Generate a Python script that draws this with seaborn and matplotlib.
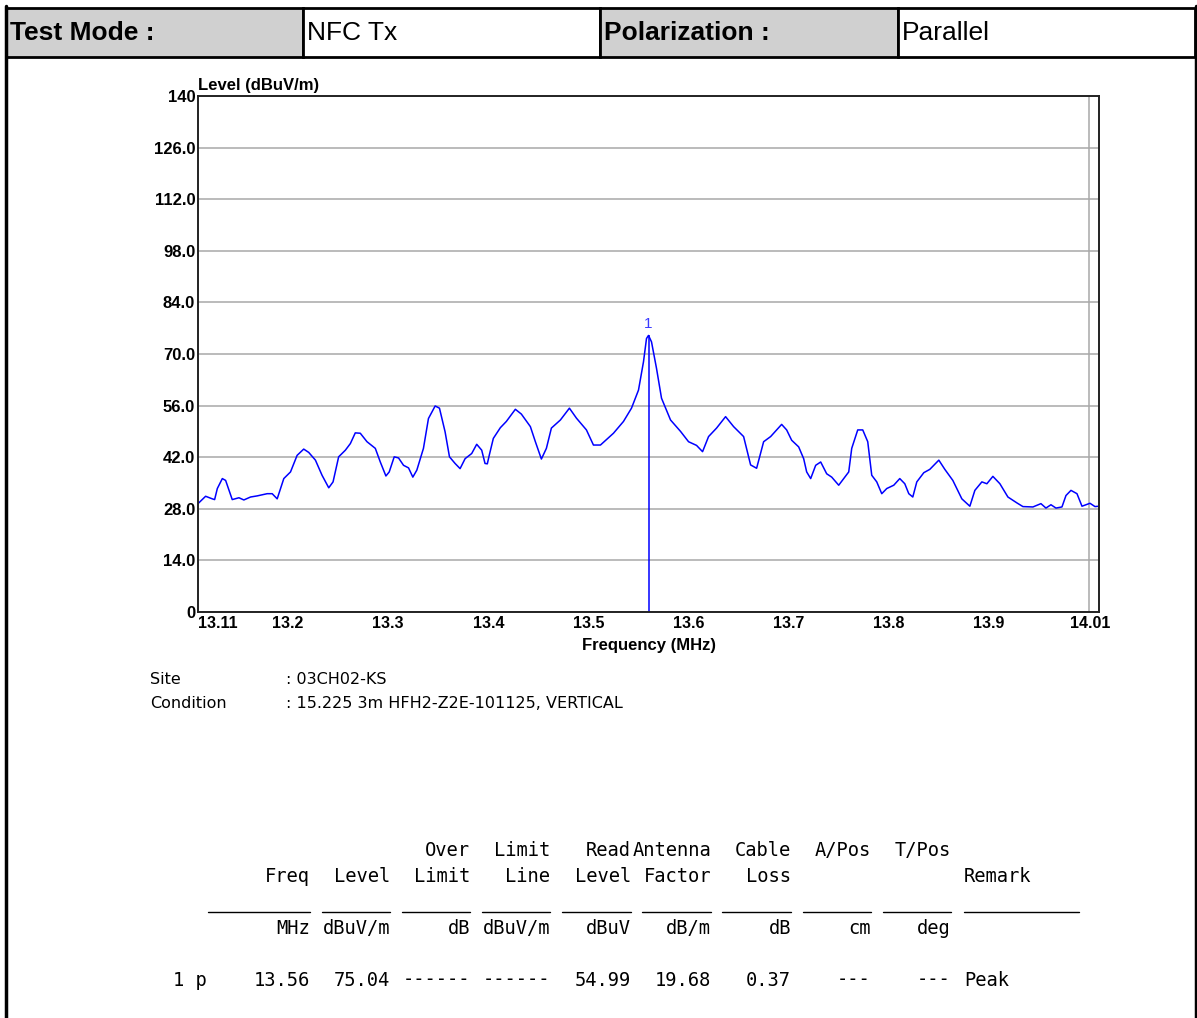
import matplotlib
matplotlib.use("Agg")
import matplotlib.pyplot as plt
import matplotlib.transforms as mtransforms
from matplotlib.patches import Rectangle
from matplotlib.lines import Line2D
import seaborn as sns

# trace (MHz, dBuV/m)
freq = [13.110, 13.1176, 13.1243, 13.1266, 13.1293, 13.1343, 13.1376, 13.1442, 13.1509, 13.1558,
        13.1625, 13.1691, 13.1791, 13.1841, 13.1891, 13.1957, 13.2024, 13.2090, 13.2156, 13.2206,
        13.2273, 13.2339, 13.2406, 13.2449, 13.2505, 13.2572, 13.2622, 13.2671, 13.2721, 13.2788,
        13.2871, 13.2921, 13.2977, 13.3010, 13.3060, 13.3103, 13.3153, 13.3203, 13.3246, 13.3286,
        13.3352, 13.3402, 13.3469, 13.3512, 13.3568, 13.3612, 13.3668, 13.3718, 13.3768, 13.3834,
        13.3884, 13.3934, 13.3967, 13.3990, 13.4010, 13.405, 13.412, 13.418, 13.427, 13.433,
        13.442, 13.447, 13.453, 13.458, 13.463, 13.472, 13.481, 13.488, 13.498, 13.505,
        13.512, 13.525, 13.535, 13.543, 13.550, 13.555, 13.558, 13.560, 13.563, 13.568,
        13.573, 13.582, 13.592, 13.600, 13.608, 13.614, 13.620, 13.628, 13.637, 13.645,
        13.655, 13.662, 13.668, 13.675, 13.682, 13.693, 13.698, 13.703, 13.710, 13.715,
        13.718, 13.722, 13.727, 13.732, 13.738, 13.743, 13.750, 13.755, 13.760, 13.763,
        13.769, 13.774, 13.779, 13.783, 13.788, 13.793, 13.798, 13.805, 13.811, 13.816,
        13.820, 13.824, 13.828, 13.835, 13.841, 13.850, 13.856, 13.864, 13.873, 13.881,
        13.886, 13.893, 13.898, 13.904, 13.911, 13.919, 13.928, 13.934, 13.944, 13.952,
        13.957, 13.962, 13.967, 13.973, 13.977, 13.982, 13.988, 13.993, 14.001, 14.006,
        14.010]
level = [29.4, 31.4, 30.7, 30.5, 33.5, 36.2, 35.7, 30.5, 31.0, 30.4,
         31.2, 31.5, 32.1, 32.1, 30.7, 36.2, 38.0, 42.5, 44.2, 43.3,
         41.2, 37.1, 33.7, 35.3, 42.1, 43.9, 45.7, 48.6, 48.5, 46.2,
         44.4, 40.7, 36.9, 38.0, 42.1, 41.8, 39.8, 39.1, 36.6, 38.5,
         44.4, 52.5, 55.9, 55.3, 48.9, 42.1, 40.3, 38.9, 41.6, 43.0,
         45.5, 43.9, 40.3, 40.2, 42.6, 47.1, 50.0, 51.7, 55.0, 53.7,
         50.3, 46.2, 41.5, 44.4, 49.9, 52.1, 55.3, 52.6, 49.4, 45.3,
         45.3, 48.5, 51.7, 55.3, 60.2, 67.9, 74.2, 75.04, 73.3, 66.1,
         58.0, 52.1, 49.0, 46.2, 45.2, 43.5, 47.6, 49.9, 53.0, 50.3,
         47.6, 39.9, 39.0, 46.2, 47.6, 50.9, 49.4, 46.6, 44.8, 41.6,
         38.0, 36.2, 39.8, 40.7, 37.5, 36.6, 34.4, 36.2, 38.0, 44.4,
         49.4, 49.4, 46.2, 37.1, 35.3, 32.1, 33.5, 34.4, 36.2, 34.8,
         32.1, 31.2, 35.3, 37.8, 38.7, 41.2, 38.7, 35.7, 30.7, 28.7,
         33.0, 35.3, 34.8, 36.8, 34.8, 31.2, 29.6, 28.6, 28.5, 29.4,
         28.2, 29.1, 28.2, 28.5, 31.6, 33.0, 32.1, 28.7, 29.5, 28.6,
         28.7]

marker_freq = 13.56
marker_level = 75.04

y_ticks = [0, 14, 28, 42, 56, 70, 84, 98, 112, 126, 140]
y_labels = ["0", "14.0", "28.0", "42.0", "56.0", "70.0", "84.0", "98.0", "112.0", "126.0", "140"]
x_ticks = [13.11, 13.2, 13.3, 13.4, 13.5, 13.6, 13.7, 13.8, 13.9, 14.01]
x_labels = ["13.11", "13.2", "13.3", "13.4", "13.5", "13.6", "13.7", "13.8", "13.9", "14.01"]
x_grid = [13.2, 13.3, 13.4, 13.5, 13.6, 13.7, 13.8, 13.9, 14.0]

header = [("Test Mode :", True), ("NFC Tx", False), ("Polarization :", True), ("Parallel", False)]
site_info = [("Site", ": 03CH02-KS"), ("Condition", ": 15.225 3m HFH2-Z2E-101125, VERTICAL")]

tbl_row1 = ["", "", "Over", "Limit", "Read", "Antenna", "Cable", "A/Pos", "T/Pos"]
tbl_row2 = ["Freq", "Level", "Limit", "Line", "Level", "Factor", "Loss", "", ""]
tbl_units = ["MHz", "dBuV/m", "dB", "dBuV/m", "dBuV", "dB/m", "dB", "cm", "deg"]
tbl_data = ["13.56", "75.04", "------", "------", "54.99", "19.68", "0.37", "---", "---"]
remark_head = "Remark"
remark_data = "Peak"
row_id = "1 p"

W, H = 1197, 1018
sns.set_style("white")
plt.rcParams["font.family"] = ["Liberation Sans", "DejaVu Sans"]
plt.rcParams["text.color"] = "black"
plt.rcParams["axes.labelcolor"] = "black"
plt.rcParams["xtick.color"] = "black"
plt.rcParams["ytick.color"] = "black"

fig = plt.figure(figsize=(W / 100, H / 100), dpi=100)
fig.patch.set_facecolor("white")


def fx(x):
    return x / W


def fy(y):
    return 1 - y / H


# header table
edges = [6, 303, 600, 898, 1195]
for i, (txt, bold) in enumerate(header):
    fill = "#d0d0d0" if bold else "white"
    fig.add_artist(Rectangle((fx(edges[i]), fy(57)), fx(edges[i + 1] - edges[i]), 49 / H,
                             transform=fig.transFigure, facecolor=fill, edgecolor="black", lw=2))
    fig.text(fx(edges[i] + 4), fy(33), txt, fontsize=19, fontweight="bold" if bold else "normal",
             va="center", ha="left")
# outer frame
fig.add_artist(Line2D([fx(5.5), fx(5.5)], [fy(6), 0], transform=fig.transFigure, color="black", lw=2.5))
fig.add_artist(Line2D([fx(1195.5), fx(1195.5)], [fy(6), 0], transform=fig.transFigure, color="black", lw=2.5))

# chart
ax = fig.add_axes([fx(198), fy(612), fx(1099 - 198), 516 / H])
sns.lineplot(x=freq, y=level, ax=ax, color="#0000ff", lw=1.1, estimator=None, sort=False)
ax.vlines(marker_freq, 0, marker_level, color="#0000ff", lw=1.1)
ax.text(marker_freq, marker_level + 1.2, "1", color="#3a3aff", ha="center", va="bottom", fontsize=11)

ax.set_xlim(13.11, 14.01)
ax.set_ylim(0, 140)
ax.set_yticks(y_ticks)
ax.set_yticklabels(y_labels, fontsize=12, fontweight="bold")
ax.set_xticks(x_ticks)
ax.set_xticklabels(x_labels, fontsize=11.5, fontweight="bold")
ax.set_xticks(x_grid, minor=True)
ax.tick_params(axis="both", which="both", length=0)
ax.tick_params(axis="y", pad=2)
ax.tick_params(axis="x", pad=3)
ax.grid(axis="y", which="major", color="#a8a8a8", lw=1.1)
ax.grid(axis="x", which="minor", color="#a8a8a8", lw=1.1)
ax.grid(axis="x", which="major", visible=False)
ax.set_axisbelow(True)
for s in ax.spines.values():
    s.set_color("#222222")
    s.set_linewidth(1.4)

labs = ax.get_xticklabels()
labs[0].set_transform(labs[0].get_transform() + mtransforms.ScaledTranslation(20 / 100, 0, fig.dpi_scale_trans))
labs[-1].set_transform(labs[-1].get_transform() + mtransforms.ScaledTranslation(-9 / 100, 0, fig.dpi_scale_trans))

ax.set_xlabel("Frequency (MHz)", fontsize=12, fontweight="bold", labelpad=5)
ax.text(0, 1.006, "Level (dBuV/m)", transform=ax.transAxes, fontsize=12, fontweight="bold",
        ha="left", va="bottom")

# site info
for i, (k, v) in enumerate(site_info):
    yy = fy(679 + 24 * i)
    fig.text(fx(150), yy, k, fontsize=11.5, family="DejaVu Sans", va="center")
    fig.text(fx(286), yy, v, fontsize=11.5, family="DejaVu Sans", va="center")

# result table
mono = "DejaVu Sans Mono"
col_right = [310, 390, 470, 550, 631, 711, 791, 871, 951]
for i, xr in enumerate(col_right):
    for txt, yy in [(tbl_row1[i], 851), (tbl_row2[i], 877), (tbl_units[i], 928), (tbl_data[i], 980)]:
        if txt:
            fig.text(fx(xr), fy(yy), txt, family=mono, fontsize=13.5, ha="right", va="center")
fig.text(fx(964), fy(877), remark_head, family=mono, fontsize=13.5, ha="left", va="center")
fig.text(fx(964), fy(980), remark_data, family=mono, fontsize=13.5, ha="left", va="center")
fig.text(fx(173), fy(980), row_id, family=mono, fontsize=13.5, ha="left", va="center")
segs = [(208, 310), (322, 390), (402, 470), (482, 550), (562, 631), (642, 711),
        (722, 791), (803, 871), (883, 951), (964, 1079)]
for a, b in segs:
    fig.add_artist(Line2D([fx(a), fx(b)], [fy(912), fy(912)], transform=fig.transFigure,
                          color="black", lw=1.0))

fig.savefig("out.png", dpi=100)
